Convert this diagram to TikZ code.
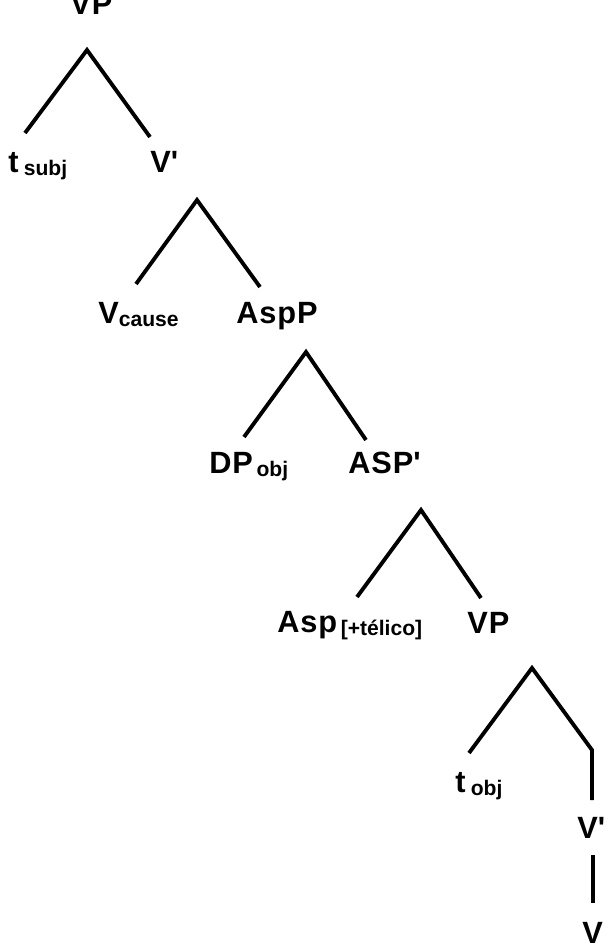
\documentclass[tikz,border=0pt]{standalone}
\usepackage{fontspec}
\setmainfont{Liberation Sans}
\usepackage{tikz}
\def\lab{\fontsize{17.5}{19}\selectfont\bfseries\addfontfeature{LetterSpace=3}}
\def\sub#1{\raisebox{-2pt}{\fontsize{12}{13}\selectfont\bfseries\addfontfeature{LetterSpace=0}#1}}

\begin{document}
\begin{tikzpicture}[x=0.02cm,y=-0.02cm,
  lbl/.style={anchor=base west,inner sep=0pt,font=\lab},
  branch/.style={line width=2.2pt,black}]
\useasboundingbox (0,0) rectangle (606,944);
\node[lbl] (VP1) at (70,14) {VP};
\node[lbl] (tsubj) at (8,172) {t\hspace{3pt}\sub{subj}};
\node[lbl] (Vbar1) at (150,172) {V\textquotesingle};
\node[lbl] (Vcause) at (98,323) {V\sub{cause}};
\node[lbl] (AspP) at (236,323) {AspP};
\node[lbl] (DPobj) at (209,473) {DP\hspace{2pt}\sub{obj}};
\node[lbl] (ASPbar) at (348,473) {ASP\textquotesingle};
\node[lbl] (Asp) at (277,632) {Asp\hspace{2pt}\sub{[+télico]}};
\node[lbl] (VP2) at (467,633) {VP};
\node[lbl] (tobj) at (455,792) {t\hspace{3pt}\sub{obj}};
\node[lbl] (Vbar2) at (577,838) {V\textquotesingle};
\node[lbl] (V) at (582,943) {V};
\coordinate (A1) at (87,50);
\coordinate (L1) at (25,133);
\coordinate (R1) at (150,137);
\coordinate (A2) at (197,200);
\coordinate (L2) at (136,284);
\coordinate (R2) at (260,287);
\coordinate (A3) at (306,352);
\coordinate (L3) at (244,437);
\coordinate (R3) at (366,440);
\coordinate (A4) at (421,510);
\coordinate (L4) at (357,597);
\coordinate (R4) at (481,598);
\coordinate (A5) at (532,668);
\coordinate (L5) at (469,753);
\coordinate (K5) at (592,750);
\coordinate (R5) at (592,800);
\coordinate (T6) at (593,855);
\coordinate (B6) at (593,903);
\draw[branch] (L1) -- (A1) -- (R1);
\draw[branch] (L2) -- (A2) -- (R2);
\draw[branch] (L3) -- (A3) -- (R3);
\draw[branch] (L4) -- (A4) -- (R4);
\draw[branch] (L5) -- (A5) -- (K5) -- (R5);
\draw[branch] (T6) -- (B6);
\end{tikzpicture}
\end{document}
